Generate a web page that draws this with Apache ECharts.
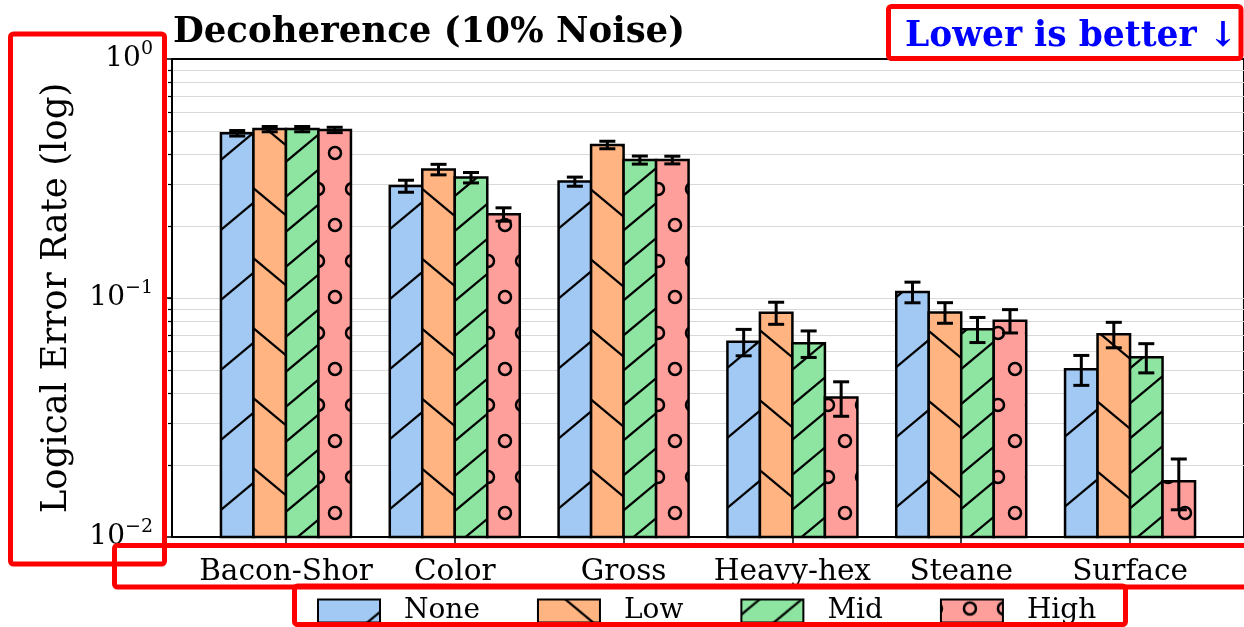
<!DOCTYPE html>
<html>
<head>
<meta charset="utf-8">
<script src="https://cdn.jsdelivr.net/npm/echarts@6/dist/echarts.min.js"></script>
<style>
  html, body { margin: 0; padding: 0; background: #fff; }
  #chart { width: 1244px; height: 627px; }
</style>
</head>
<body>
<div id="chart"></div>
<script>
// codes on the x axis, noise levels as series
const codes = ['Bacon-Shor', 'Color', 'Gross', 'Heavy-hex', 'Steane', 'Surface'];
const levels = ['None', 'Low', 'Mid', 'High'];

// logical error rate, one array per noise level
const rateNone = [0.489, 0.294, 0.307, 0.0656, 0.106, 0.0503];
const rateLow = [0.509, 0.345, 0.437, 0.0868, 0.087, 0.0705];
const rateMid = [0.509, 0.319, 0.378, 0.0646, 0.074, 0.0565];
const rateHigh = [0.505, 0.224, 0.378, 0.0383, 0.0804, 0.0171];

// error bar half widths
const errNone = [0.013, 0.017, 0.0135, 0.0083, 0.0105, 0.0072];
const errLow = [0.013, 0.0175, 0.0158, 0.0092, 0.0086, 0.0086];
const errMid = [0.013, 0.016, 0.0147, 0.0082, 0.0089, 0.0079];
const errHigh = [0.013, 0.0144, 0.014, 0.0063, 0.009, 0.0041];

// log axis ticks
const majorTicks = [0.01, 0.1, 1];
const minorTicks = [0.02, 0.03, 0.04, 0.05, 0.06, 0.07, 0.08, 0.09, 0.1,
    0.2, 0.3, 0.4, 0.5, 0.6, 0.7, 0.8, 0.9];

const colors = ['#a1c9f4', '#ffb482', '#8de5a1', '#ff9f9b'];
const FONT = '"DejaVu Serif", "Liberation Serif", serif';

// hatch tiles drawn on small canvases, used as pattern fills
const makeTile = (w, h, bg, draw) => {
    const c = document.createElement('canvas');
    c.width = w;
    c.height = h;
    const ctx = c.getContext('2d');
    ctx.fillStyle = bg;
    ctx.fillRect(0, 0, w, h);
    ctx.strokeStyle = '#000';
    ctx.lineWidth = 2.2;
    draw(ctx);
    return { image: c, repeat: 'repeat' };
};

const slashLines = (ctx, w, h, offsets, dir) => {
    offsets.forEach((c) => {
        ctx.beginPath();
        if (dir > 0) {
            // "/" : y = c - (h/w) x
            ctx.moveTo(-10, c + 10 * h / w);
            ctx.lineTo(w + 10, c - (w + 10) * h / w);
        } else {
            // "\" : y = c + (h/w) x
            ctx.moveTo(-10, c - 10 * h / w);
            ctx.lineTo(w + 10, c + (w + 10) * h / w);
        }
        ctx.stroke();
    });
};

const patterns = [
    makeTile(84, 70, colors[0], (ctx) => slashLines(ctx, 84, 70, [-6, 64, 134], 1)),
    makeTile(84, 70, colors[1], (ctx) => slashLines(ctx, 84, 70, [-93, -23, 47, 117], -1)),
    makeTile(42, 35, colors[2], (ctx) => slashLines(ctx, 42, 35, [-20, 15, 50, 85], 1)),
    makeTile(34, 72, colors[3], (ctx) => {
        ctx.lineWidth = 2.5;
        const pts = [[12, 45], [29, 9]];
        for (let dx = -1; dx <= 1; dx++) {
            for (let dy = -1; dy <= 1; dy++) {
                pts.forEach((p) => {
                    ctx.beginPath();
                    ctx.arc(p[0] + dx * 34, p[1] + dy * 72, 6, 0, Math.PI * 2);
                    ctx.stroke();
                });
            }
        }
    }),
];

const groupFrac = 0.77;
const capHalf = 8;

const makeRender = (k) => (params, api) => {
    const i = api.value(0);
    const v = api.value(1);
    const e = api.value(2);
    const band = api.size([1, 0])[0];
    const w = (band * groupFrac) / levels.length;
    const top = api.coord([i, v]);
    const base = api.coord([i, majorTicks[0]])[1];
    const x0 = top[0] - (band * groupFrac) / 2 + k * w;
    const cx = x0 + w / 2;
    const yHi = api.coord([i, v + e])[1];
    const yLo = api.coord([i, v - e])[1];
    const line = { stroke: '#000', lineWidth: 3 };
    return {
        type: 'group',
        children: [
            {
                type: 'rect',
                shape: { x: x0, y: top[1], width: w, height: base - top[1] },
                style: { fill: patterns[k], stroke: '#000', lineWidth: 2.5 },
            },
            { type: 'line', shape: { x1: cx, y1: yHi, x2: cx, y2: yLo }, style: line },
            { type: 'line', shape: { x1: cx - capHalf, y1: yHi, x2: cx + capHalf, y2: yHi }, style: line },
            { type: 'line', shape: { x1: cx - capHalf, y1: yLo, x2: cx + capHalf, y2: yLo }, style: line },
        ],
    };
};

const rates = [rateNone, rateLow, rateMid, rateHigh];
const errs = [errNone, errLow, errMid, errHigh];

const series = levels.map((name, k) => ({
    name,
    type: 'custom',
    renderItem: makeRender(k),
    itemStyle: { color: patterns[k], borderColor: '#000', borderWidth: 2 },
    encode: { x: 0, y: 1 },
    data: codes.map((c, i) => [i, rates[k][i], errs[k][i]]),
}));

const supLabel = (v) => {
    const ex = Math.round(Math.log10(v));
    return '{b|10}{s|' + (ex < 0 ? '\u2212' : '') + Math.abs(ex) + '}';
};

const chart = echarts.init(document.getElementById('chart'));
const option = {
    animation: false,
    backgroundColor: '#fff',
    title: {
        text: 'Decoherence (10% Noise)',
        left: 173,
        top: 15,
        padding: 0,
        textStyle: { fontFamily: FONT, fontWeight: 'bold', fontSize: 35.5, color: '#000' },
    },
    grid: {
        left: 172,
        top: 59,
        right: -1,
        bottom: 90,
        show: true,
        borderColor: '#000',
        borderWidth: 2,
        backgroundColor: 'transparent',
    },
    legend: {
        data: levels,
        left: 317,
        top: 597,
        icon: 'rect',
        itemWidth: 62,
        itemHeight: 23,
        itemGap: 57,
        padding: 0,
        itemStyle: { borderColor: '#000', borderWidth: 2 },
        textStyle: { fontFamily: FONT, fontSize: 28, color: '#000', padding: [0, 0, 0, 19] },
    },
    xAxis: {
        type: 'value',
        min: -0.675,
        max: 5.675,
        splitLine: { show: false },
        axisLine: { show: true, onZero: false, lineStyle: { color: '#000', width: 2 } },
        axisTick: {
            show: true,
            customValues: [0, 1, 2, 3, 4, 5],
            length: 6,
            lineStyle: { color: '#000', width: 1.5 },
        },
        axisLabel: {
            customValues: [0, 1, 2, 3, 4, 5],
            formatter: (v) => codes[Math.round(v)],
            margin: 20,
            fontFamily: FONT,
            fontSize: 29.5,
            color: '#000',
        },
    },
    yAxis: [
        {
            type: 'log',
            logBase: 10,
            min: 0.01,
            max: 1,
            name: 'Logical Error Rate (log)',
            nameLocation: 'middle',
            nameRotate: 90,
            nameGap: 97,
            nameTextStyle: { fontFamily: FONT, fontSize: 35.5, color: '#000' },
            axisLine: { show: true, onZero: false, lineStyle: { color: '#000', width: 2 } },
            axisTick: {
                show: true,
                customValues: majorTicks,
                length: 7,
                lineStyle: { color: '#000', width: 1.5 },
            },
            splitLine: { show: false },
            axisLabel: {
                customValues: majorTicks,
                formatter: supLabel,
                margin: 19,
                color: '#000',
                rich: {
                    b: { fontFamily: FONT, fontSize: 28, lineHeight: 38, color: '#000' },
                    s: { fontFamily: FONT, fontSize: 19, lineHeight: 20, verticalAlign: 'top', color: '#000' },
                },
            },
        },
        {
            type: 'log',
            logBase: 10,
            min: 0.01,
            max: 1,
            position: 'left',
            axisLine: { show: false, onZero: false },
            axisLabel: { show: false },
            axisTick: {
                show: true,
                customValues: minorTicks,
                length: 4,
                lineStyle: { color: '#000', width: 1.2 },
            },
            splitLine: { show: true, lineStyle: { color: '#d9d9d9', width: 1.2 } },
        },
    ],
    graphic: [
        {
            type: 'text',
            left: 905,
            top: 20,
            z: 50,
            style: {
                text: 'Lower is better \u2193',
                fill: '#0000ff',
                font: 'bold 34.5px ' + FONT,
            },
        },
        // red annotation frames
        { type: 'rect', z: 100, shape: { x: 10.5, y: 34, width: 154, height: 530, r: 3 },
            style: { fill: null, stroke: '#ff0000', lineWidth: 5 } },
        { type: 'rect', z: 100, shape: { x: 888.5, y: 6.5, width: 352.5, height: 52, r: 3 },
            style: { fill: null, stroke: '#ff0000', lineWidth: 5 } },
        { type: 'rect', z: 100, shape: { x: 114.5, y: 545.5, width: 1140, height: 41.5, r: 3 },
            style: { fill: null, stroke: '#ff0000', lineWidth: 5 } },
        { type: 'rect', z: 100, shape: { x: 294.5, y: 586, width: 831, height: 38.5, r: 3 },
            style: { fill: null, stroke: '#ff0000', lineWidth: 5 } },
    ],
    series,
};
chart.setOption(option);
</script>
</body>
</html>
